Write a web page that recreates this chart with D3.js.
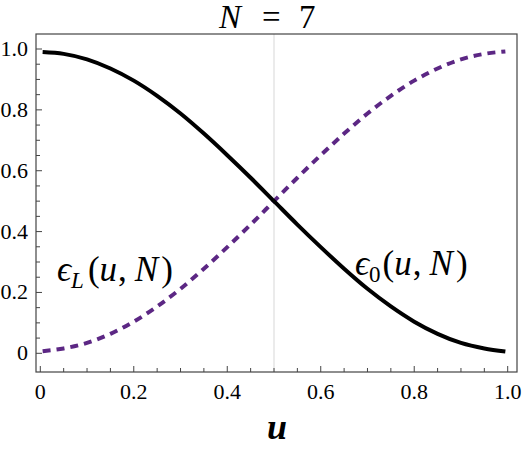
<!DOCTYPE html>
<html>
<head>
<meta charset="utf-8">
<script src="https://cdn.jsdelivr.net/npm/d3@7"></script>
<style>
  html, body { margin: 0; padding: 0; background: #fff; }
  svg { display: block; }
</style>
</head>
<body>
<svg id="chart" width="522" height="449"></svg>
<script>
// ---- data ----
const uValues = [0.005, 0.05, 0.10, 0.15, 0.20, 0.25, 0.30, 0.35, 0.40, 0.45, 0.50,
                 0.55, 0.60, 0.65, 0.70, 0.75, 0.80, 0.85, 0.90, 0.95, 0.995];
const eps0Values = [0.990, 0.984, 0.966, 0.936, 0.896, 0.846, 0.788, 0.722, 0.651, 0.577, 0.500,
                    0.423, 0.349, 0.278, 0.212, 0.154, 0.104, 0.064, 0.034, 0.016, 0.006];
const epsLValues = [0.007, 0.016, 0.034, 0.064, 0.104, 0.154, 0.212, 0.278, 0.349, 0.423, 0.500,
                    0.577, 0.651, 0.722, 0.788, 0.846, 0.896, 0.936, 0.966, 0.984, 0.992];
const xTickValues = [0, 0.2, 0.4, 0.6, 0.8, 1.0];
const xTickLabels = ["0", "0.2", "0.4", "0.6", "0.8", "1.0"];
const yTickValues = [0, 0.2, 0.4, 0.6, 0.8, 1.0];
const yTickLabels = ["0", "0.2", "0.4", "0.6", "0.8", "1.0"];
const minorTickValues = d3.range(0, 1.0001, 0.05);
const gridValues = [0.5];

const SERIF = "Liberation Serif, DejaVu Serif, Noto Serif, Tinos, FreeSerif, Times New Roman, Times, serif";

// ---- layout ----
const frame = { left: 36, top: 34, right: 517, bottom: 372 };
const x = d3.scaleLinear().domain([0, 1]).range([40.3, 507.7]);
const y = d3.scaleLinear().domain([0, 1]).range([353.3, 49]);

const svg = d3.select("#chart").style("font-family", SERIF);
const axisColor = "#444";

// grid line
svg.selectAll("line.grid").data(gridValues).enter().append("line")
  .attr("class", "grid")
  .attr("x1", d => x(d)).attr("x2", d => x(d))
  .attr("y1", frame.top).attr("y2", frame.bottom)
  .attr("stroke", "#dedede").attr("stroke-width", 1.2);

// curves
const pts0 = uValues.map((u, i) => [u, eps0Values[i]]);
const ptsL = uValues.map((u, i) => [u, epsLValues[i]]);
const line = d3.line().x(d => x(d[0])).y(d => y(d[1])).curve(d3.curveMonotoneX);

svg.append("path").datum(ptsL).attr("d", line)
  .attr("fill", "none").attr("stroke", "#5c2784").attr("stroke-width", 4)
  .attr("stroke-dasharray", "8,6");
svg.append("path").datum(pts0).attr("d", line)
  .attr("fill", "none").attr("stroke", "#000").attr("stroke-width", 4);

// frame
svg.append("rect")
  .attr("x", frame.left).attr("y", frame.top)
  .attr("width", frame.right - frame.left).attr("height", frame.bottom - frame.top)
  .attr("fill", "none").attr("stroke", axisColor).attr("stroke-width", 1.2);

// ticks (inside)
const isMajor = v => Math.abs(v * 5 - Math.round(v * 5)) < 1e-6;
svg.selectAll("line.xt").data(minorTickValues).enter().append("line")
  .attr("x1", d => x(d)).attr("x2", d => x(d))
  .attr("y1", frame.bottom).attr("y2", d => frame.bottom - (isMajor(d) ? 6 : 4))
  .attr("stroke", axisColor).attr("stroke-width", 1);
svg.selectAll("line.yt").data(minorTickValues).enter().append("line")
  .attr("y1", d => y(d)).attr("y2", d => y(d))
  .attr("x1", frame.left).attr("x2", d => frame.left + (isMajor(d) ? 6 : 4))
  .attr("stroke", axisColor).attr("stroke-width", 1);

// tick labels
svg.selectAll("text.xl").data(xTickValues).enter().append("text")
  .attr("x", d => x(d)).attr("y", 399)
  .attr("text-anchor", "middle").attr("font-size", 22)
  .text((d, i) => xTickLabels[i]);
svg.selectAll("text.yl").data(yTickValues).enter().append("text")
  .attr("x", 28).attr("y", d => y(d) + 7)
  .attr("text-anchor", "end").attr("font-size", 22)
  .text((d, i) => yTickLabels[i]);

// title N = 7
const title = svg.append("g").attr("font-size", 33);
title.append("text").attr("x", 219).attr("y", 28).attr("font-style", "italic").text("N");
title.append("text").attr("x", 262).attr("y", 28).text("=");
title.append("text").attr("x", 299).attr("y", 28).text("7");

// x axis label
svg.append("text").attr("x", 277).attr("y", 439)
  .attr("text-anchor", "middle").attr("font-size", 36)
  .attr("font-style", "italic").attr("font-weight", 600).text("u");

// in-plot labels
function epsLabel(xPos, yPos, sub, subItalic, gap) {
  const t = svg.append("text")
    .attr("x", xPos).attr("y", yPos).attr("font-size", 35);
  t.append("tspan").attr("font-style", "italic").text("ϵ");
  t.append("tspan").attr("font-size", 23).attr("dy", 7)
    .attr("font-style", subItalic ? "italic" : "normal").text(sub);
  t.append("tspan").attr("dy", -7).attr("dx", gap).text("(");
  t.append("tspan").attr("font-style", "italic").text("u");
  t.append("tspan").attr("dx", 1).text(",");
  t.append("tspan").attr("dx", 8).attr("font-style", "italic").text("N");
  t.append("tspan").attr("dx", 3).text(")");
}
epsLabel(57, 281, "L", true, 4);
epsLabel(355, 275, "0", false, 2);
</script>
</body>
</html>
